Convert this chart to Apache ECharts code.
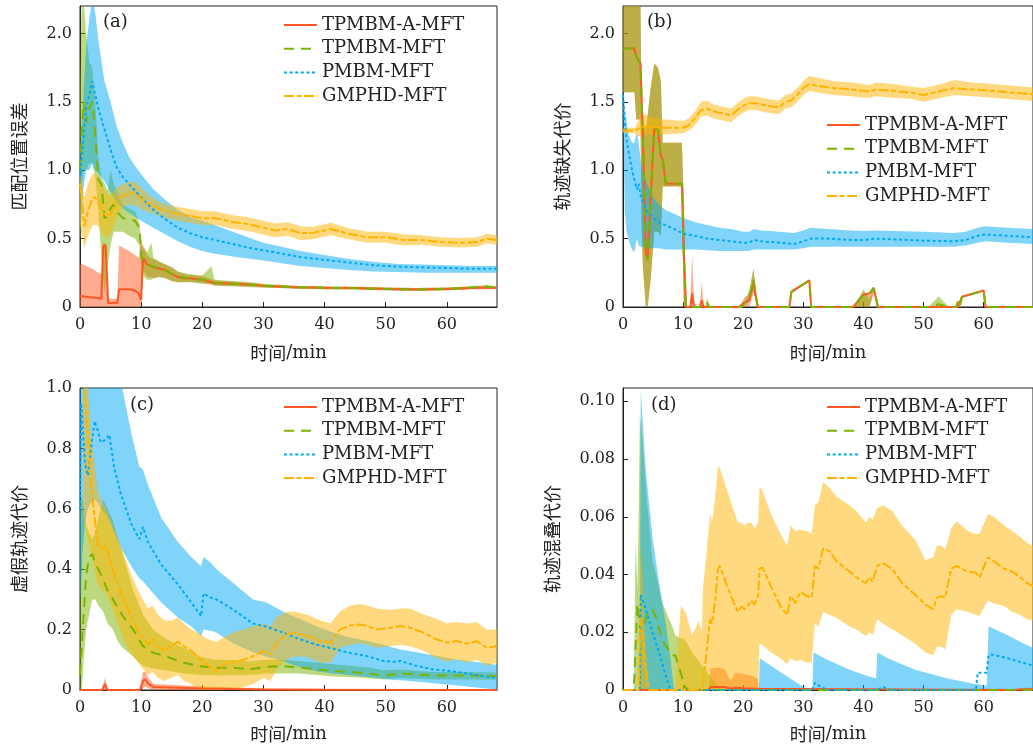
<!DOCTYPE html>
<html>
<head>
<meta charset="utf-8">
<script src="https://cdn.jsdelivr.net/npm/echarts@6/dist/echarts.min.js"></script>
<style>
html, body { margin: 0; padding: 0; background: #fff; }
#main { width: 1033px; height: 747px; }
</style>
</head>
<body>
<div id="main"></div>
<script>
// 方法名称
var methods = ['TPMBM-A-MFT', 'TPMBM-MFT', 'PMBM-MFT', 'GMPHD-MFT'];

// ---------- (a) 匹配位置误差 ----------
var aRedT = [0, 1, 2, 3, 3.5, 3.8, 4.2, 4.6, 5.5, 6.1, 6.4, 8, 9, 9.6, 10, 10.3, 10.7, 11, 11.5, 12, 13, 14, 15, 16, 17, 18, 20, 22, 25, 28, 30, 35, 40, 45, 50, 55, 60, 65, 68.2];
var aRedMean = [0.08, 0.075, 0.07, 0.065, 0.06, 0.45, 0.45, 0.03, 0.03, 0.03, 0.13, 0.13, 0.12, 0.1, 0.05, 0.36, 0.33, 0.31, 0.30, 0.29, 0.28, 0.27, 0.24, 0.22, 0.21, 0.21, 0.2, 0.176, 0.17, 0.163, 0.155, 0.145, 0.14, 0.138, 0.132, 0.128, 0.132, 0.14, 0.14];
var aRedHi = [0.32, 0.3, 0.28, 0.25, 0.24, 0.47, 0.47, 0.06, 0.06, 0.06, 0.45, 0.41, 0.38, 0.36, 0.48, 0.45, 0.42, 0.38, 0.36, 0.35, 0.33, 0.31, 0.29, 0.26, 0.24, 0.235, 0.225, 0.195, 0.185, 0.175, 0.165, 0.155, 0.15, 0.148, 0.142, 0.138, 0.142, 0.15, 0.15];
var aRedLo = [0, 0, 0, 0, 0, 0, 0, 0, 0, 0, 0, 0, 0, 0, 0, 0.27, 0.24, 0.22, 0.22, 0.21, 0.22, 0.21, 0.19, 0.18, 0.18, 0.185, 0.175, 0.158, 0.155, 0.15, 0.145, 0.135, 0.13, 0.128, 0.122, 0.118, 0.122, 0.13, 0.13];

var aGreenT = [0, 0.3, 0.6, 1, 1.5, 2, 2.5, 3, 3.5, 4, 4.5, 5, 5.5, 6, 7, 8, 9, 9.7, 10.1, 10.5, 11, 11.7, 12, 13, 14, 15, 16, 18, 20, 21.5, 22, 25, 28, 30, 35, 40, 45, 50, 55, 60, 63, 66.5, 68.2];
var aGreenMean = [1.0, 1.3, 1.5, 1.35, 1.45, 1.5, 1.25, 0.93, 0.9, 0.65, 0.66, 0.72, 0.75, 0.70, 0.65, 0.64, 0.63, 0.58, 0.36, 0.33, 0.31, 0.30, 0.29, 0.28, 0.27, 0.24, 0.22, 0.21, 0.2, 0.19, 0.176, 0.17, 0.163, 0.155, 0.145, 0.14, 0.138, 0.132, 0.128, 0.132, 0.14, 0.15, 0.14];
var aGreenHi = [1.6, 2.25, 2.25, 2.0, 1.8, 1.75, 1.5, 1.1, 0.95, 0.9, 0.85, 1.0, 0.9, 0.85, 0.75, 0.72, 0.7, 0.62, 0.45, 0.42, 0.40, 0.47, 0.36, 0.33, 0.31, 0.29, 0.26, 0.24, 0.23, 0.3, 0.2, 0.19, 0.18, 0.17, 0.155, 0.15, 0.148, 0.142, 0.138, 0.142, 0.15, 0.16, 0.15];
var aGreenLo = [0.4, 0.9, 1.0, 1.0, 1.05, 1.05, 0.95, 0.7, 0.35, 0.1, 0.3, 0.45, 0.55, 0.55, 0.55, 0.52, 0.5, 0.45, 0.25, 0.22, 0.2, 0.2, 0.21, 0.22, 0.21, 0.19, 0.18, 0.18, 0.17, 0.17, 0.155, 0.15, 0.145, 0.14, 0.135, 0.13, 0.128, 0.122, 0.118, 0.122, 0.13, 0.14, 0.13];

var aBlueT = [0, 0.5, 1, 1.5, 2, 2.5, 3, 4, 5, 6, 7, 8, 9, 10, 12, 14, 16, 18, 20, 22, 25, 28, 30, 33, 36, 40, 44, 48, 52, 56, 60, 64, 68.2];
var aBlueMean = [0.95, 1.2, 1.45, 1.55, 1.65, 1.55, 1.45, 1.3, 1.15, 1.02, 0.95, 0.9, 0.85, 0.8, 0.71, 0.64, 0.58, 0.54, 0.51, 0.49, 0.46, 0.43, 0.415, 0.39, 0.365, 0.345, 0.325, 0.305, 0.295, 0.29, 0.285, 0.28, 0.28];
var aBlueHi = [1.0, 1.5, 1.9, 2.1, 2.25, 2.15, 1.95, 1.65, 1.5, 1.32, 1.2, 1.1, 1.03, 0.97, 0.86, 0.78, 0.71, 0.66, 0.63, 0.6, 0.55, 0.5, 0.47, 0.44, 0.41, 0.38, 0.35, 0.33, 0.315, 0.31, 0.305, 0.3, 0.3];
var aBlueLo = [0.5, 0.85, 1.0, 1.0, 1.05, 1.0, 0.98, 0.92, 0.84, 0.76, 0.72, 0.69, 0.66, 0.63, 0.58, 0.53, 0.48, 0.44, 0.41, 0.39, 0.37, 0.35, 0.34, 0.32, 0.3, 0.285, 0.27, 0.26, 0.255, 0.25, 0.25, 0.25, 0.25];

var aOrangeT = [0, 0.2, 0.7, 1.3, 2.1, 2.9, 3.7, 4.5, 5.1, 6.2, 7.3, 8.4, 9.5, 10.5, 11.6, 13.3, 16, 18.7, 20, 22, 25, 27, 30, 32, 34, 36, 38, 41, 44, 47, 50, 53, 56, 59, 62, 65, 66.5, 68.2];
var aOrangeMean = [0.9, 0.83, 0.59, 0.7, 0.8, 0.79, 0.69, 0.66, 0.69, 0.79, 0.82, 0.835, 0.81, 0.775, 0.75, 0.71, 0.68, 0.66, 0.647, 0.652, 0.62, 0.61, 0.58, 0.56, 0.57, 0.54, 0.54, 0.57, 0.535, 0.51, 0.51, 0.49, 0.49, 0.475, 0.47, 0.475, 0.5, 0.49];
var aOrangeHi = [0.95, 0.95, 0.8, 0.9, 0.98, 0.95, 0.88, 0.82, 0.82, 0.88, 0.9, 0.92, 0.9, 0.85, 0.81, 0.76, 0.73, 0.71, 0.7, 0.7, 0.67, 0.66, 0.63, 0.61, 0.62, 0.59, 0.585, 0.615, 0.575, 0.55, 0.55, 0.53, 0.525, 0.51, 0.505, 0.51, 0.535, 0.525];
var aOrangeLo = [0.6, 0.55, 0.43, 0.52, 0.6, 0.6, 0.53, 0.5, 0.55, 0.68, 0.74, 0.75, 0.73, 0.7, 0.69, 0.66, 0.63, 0.61, 0.6, 0.6, 0.57, 0.56, 0.53, 0.51, 0.52, 0.49, 0.495, 0.525, 0.495, 0.47, 0.47, 0.45, 0.455, 0.44, 0.435, 0.44, 0.465, 0.455];

// ---------- (b) 轨迹缺失代价 ----------
var bRedT = [0, 1.9, 2.2, 2.9, 3.1, 3.3, 3.8, 4.1, 4.6, 5.2, 5.8, 6.3, 6.6, 7.1, 9.8, 10.1, 10.5, 11.2, 11.5, 11.8, 12.3, 12.8, 13.1, 13.4, 13.8, 19.3, 20.2, 21.0, 21.7, 22.4, 27.7, 28.0, 31.0, 31.3, 38.3, 40.0, 41.0, 41.7, 42.4, 55.7, 56.0, 56.4, 60.0, 60.3, 68.2];
var bRedMean = [1.89, 1.89, 1.83, 1.78, 1.78, 1.27, 0.39, 0.34, 0.8, 1.3, 1.3, 1.1, 1.08, 0.9, 0.9, 0.4, 0, 0, 0.1, 0, 0, 0, 0.05, 0, 0, 0, 0.03, 0.05, 0.18, 0, 0, 0.11, 0.195, 0, 0, 0.09, 0.1, 0.14, 0, 0, 0, 0.075, 0.12, 0, 0];
var bRedHi = [2.3, 2.3, 2.3, 2.3, 1.4, 1.35, 1.3, 1.4, 1.6, 1.78, 1.75, 1.65, 1.2, 1.2, 1.2, 0.8, 0, 0, 0.4, 0.05, 0, 0.02, 0.18, 0.02, 0, 0, 0.07, 0.09, 0.28, 0, 0, 0.12, 0.2, 0, 0, 0.11, 0.09, 0.13, 0, 0, 0, 0.08, 0.125, 0, 0];
var bRedLo = [1.57, 1.57, 1.37, 1.37, 0.6, 0.3, 0, 0, 0.2, 0.55, 0.55, 0.52, 0.88, 0.88, 0.88, 0, 0, 0, 0, 0, 0, 0, 0, 0, 0, 0, 0, 0, 0.1, 0, 0, 0.1, 0.19, 0, 0, 0, 0, 0.1, 0, 0, 0, 0.07, 0.115, 0, 0];

var bGreenT = [0, 1.9, 2.2, 2.9, 3.1, 3.3, 3.8, 4.1, 4.6, 5.2, 5.8, 6.3, 6.6, 7.1, 9.8, 10.1, 10.5, 13.6, 14.0, 14.4, 19.8, 21.0, 21.7, 22.4, 27.7, 28.0, 31.0, 31.3, 38.3, 40.0, 41.0, 41.7, 42.4, 50.8, 52.5, 54.2, 55.4, 55.7, 56.0, 56.4, 60.0, 60.3, 68.2];
var bGreenMean = [1.89, 1.89, 1.83, 1.78, 1.78, 1.27, 0.39, 0.34, 0.8, 1.3, 1.3, 1.1, 1.08, 0.9, 0.9, 0.4, 0, 0, 0.03, 0, 0, 0.08, 0.2, 0, 0, 0.11, 0.195, 0, 0, 0.09, 0.1, 0.14, 0, 0, 0.02, 0, 0, 0.04, 0, 0.075, 0.12, 0, 0];
var bGreenHi = [2.3, 2.3, 2.3, 2.3, 1.4, 1.35, 1.3, 1.4, 1.6, 1.78, 1.75, 1.65, 1.2, 1.2, 1.2, 0.8, 0, 0, 0.07, 0, 0, 0.12, 0.28, 0, 0, 0.12, 0.2, 0, 0, 0.127, 0.055, 0.146, 0, 0, 0.078, 0, 0, 0.05, 0, 0.08, 0.125, 0, 0];
var bGreenLo = [1.57, 1.57, 1.37, 1.37, 0.6, 0.3, 0, 0, 0.2, 0.55, 0.55, 0.52, 0.88, 0.88, 0.88, 0, 0, 0, 0, 0, 0, 0.04, 0.12, 0, 0, 0.1, 0.19, 0, 0, 0, 0, 0.11, 0, 0, 0, 0, 0, 0.03, 0, 0.07, 0.115, 0, 0];

var bBlueT = [0, 0.3, 0.6, 1, 1.5, 1.9, 2.3, 2.6, 3, 4, 5, 6, 7, 8, 9, 10, 12, 14, 16, 18, 20, 21, 21.8, 23, 26, 28.5, 30, 31.2, 34, 38, 40, 42, 45, 50, 55, 57, 59, 60.2, 64, 68.2];
var bBlueMean = [1.55, 1.35, 1.22, 1.12, 1.0, 0.93, 0.86, 0.9, 0.8, 0.7, 0.65, 0.62, 0.6, 0.58, 0.56, 0.535, 0.52, 0.5, 0.49, 0.48, 0.47, 0.47, 0.49, 0.48, 0.47, 0.46, 0.48, 0.5, 0.5, 0.49, 0.49, 0.5, 0.495, 0.485, 0.48, 0.49, 0.52, 0.53, 0.52, 0.51];
var bBlueHi = [1.62, 1.45, 1.35, 1.25, 1.2, 1.2, 1.28, 1.2, 1.05, 0.9, 0.8, 0.75, 0.71, 0.69, 0.67, 0.65, 0.62, 0.6, 0.58, 0.57, 0.55, 0.55, 0.57, 0.56, 0.55, 0.54, 0.56, 0.58, 0.57, 0.56, 0.555, 0.56, 0.555, 0.55, 0.54, 0.55, 0.58, 0.59, 0.58, 0.57];
var bBlueLo = [1.4, 0.7, 0.55, 0.48, 0.42, 0.4, 0.5, 0.45, 0.44, 0.43, 0.43, 0.43, 0.42, 0.42, 0.42, 0.42, 0.42, 0.415, 0.41, 0.41, 0.41, 0.41, 0.42, 0.42, 0.42, 0.42, 0.43, 0.44, 0.44, 0.44, 0.44, 0.44, 0.44, 0.44, 0.44, 0.45, 0.47, 0.48, 0.47, 0.46];

var bOrangeT = [0, 2, 2.5, 3, 3.5, 5, 7, 10, 11, 12, 13, 14, 15, 17, 18, 19, 20, 21, 22, 24, 26, 27, 28, 29, 30, 31, 32, 35, 38, 40, 41, 42, 45, 48, 50, 52, 53, 55, 58, 60, 64, 68.2];
var bOrangeMean = [1.29, 1.29, 1.3, 1.32, 1.32, 1.315, 1.31, 1.31, 1.33, 1.38, 1.44, 1.45, 1.43, 1.41, 1.40, 1.44, 1.47, 1.49, 1.49, 1.47, 1.46, 1.5, 1.51, 1.55, 1.6, 1.63, 1.62, 1.6, 1.59, 1.58, 1.575, 1.59, 1.58, 1.565, 1.55, 1.57, 1.58, 1.6, 1.59, 1.585, 1.57, 1.555];
var bOrangeHi = [1.31, 1.31, 1.36, 1.39, 1.41, 1.38, 1.37, 1.36, 1.38, 1.43, 1.5, 1.51, 1.48, 1.46, 1.45, 1.49, 1.52, 1.54, 1.54, 1.52, 1.51, 1.55, 1.56, 1.6, 1.65, 1.69, 1.68, 1.65, 1.64, 1.63, 1.62, 1.64, 1.63, 1.61, 1.6, 1.62, 1.63, 1.66, 1.64, 1.635, 1.62, 1.605];
var bOrangeLo = [1.27, 1.27, 1.25, 1.25, 1.26, 1.26, 1.26, 1.27, 1.29, 1.33, 1.39, 1.4, 1.38, 1.36, 1.35, 1.39, 1.42, 1.44, 1.44, 1.42, 1.41, 1.45, 1.46, 1.5, 1.55, 1.58, 1.57, 1.55, 1.54, 1.53, 1.53, 1.54, 1.53, 1.52, 1.5, 1.52, 1.53, 1.55, 1.54, 1.535, 1.52, 1.505];

// ---------- (c) 虚假轨迹代价 ----------
var cRedT = [0, 3.6, 4.1, 4.5, 9.8, 10.3, 10.7, 11.2, 12, 15, 20, 30, 40, 68.2];
var cRedMean = [0, 0, 0.02, 0, 0, 0.03, 0.035, 0.02, 0.01, 0.008, 0.005, 0.002, 0.001, 0];
var cRedHi = [0, 0, 0.042, 0, 0, 0.06, 0.06, 0.04, 0.02, 0.017, 0.012, 0.006, 0.004, 0.003];
var cRedLo = [0, 0, 0, 0, 0, 0.005, 0.012, 0.005, 0.002, 0, 0, 0, 0, 0];

var cGreenT = [0, 0.3, 0.6, 1, 1.5, 2, 2.5, 3, 3.8, 4.5, 5.4, 6.2, 7, 8.7, 10.3, 12, 14, 16.9, 19.6, 22.3, 25, 27.8, 30.5, 33.2, 36, 41.4, 47, 49.6, 52.4, 57.8, 63.3, 68.2];
var cGreenMean = [0.05, 0.15, 0.25, 0.38, 0.44, 0.45, 0.42, 0.4, 0.366, 0.33, 0.3, 0.27, 0.245, 0.2, 0.145, 0.123, 0.112, 0.09, 0.079, 0.074, 0.074, 0.068, 0.077, 0.079, 0.074, 0.063, 0.055, 0.048, 0.055, 0.048, 0.048, 0.046];
var cGreenHi = [0.6, 0.65, 0.6, 0.55, 0.52, 0.5, 0.52, 0.57, 0.63, 0.6, 0.56, 0.5, 0.45, 0.33, 0.25, 0.2, 0.17, 0.14, 0.11, 0.1, 0.1, 0.095, 0.1, 0.1, 0.095, 0.085, 0.075, 0.065, 0.068, 0.06, 0.06, 0.058];
var cGreenLo = [0, 0, 0.1, 0.2, 0.25, 0.3, 0.3, 0.28, 0.26, 0.22, 0.2, 0.16, 0.14, 0.11, 0.08, 0.07, 0.065, 0.055, 0.05, 0.048, 0.05, 0.05, 0.055, 0.055, 0.055, 0.045, 0.04, 0.035, 0.04, 0.035, 0.035, 0.034];

var cBlueT = [0, 0.2, 0.4, 0.8, 1.3, 1.8, 2.4, 2.9, 3.4, 4.3, 4.8, 5.6, 6.7, 8.4, 9.7, 10.3, 11.1, 13.3, 16, 18.2, 19.8, 20.2, 21.5, 22.3, 25, 28.3, 30.5, 33.2, 36, 38.7, 41.4, 44, 47, 49.6, 51.3, 52.4, 55, 57.8, 60.5, 63.3, 66, 68.2];
var cBlueMean = [0.6, 0.95, 0.89, 0.75, 0.71, 0.8, 0.89, 0.86, 0.82, 0.83, 0.845, 0.735, 0.647, 0.55, 0.50, 0.54, 0.49, 0.415, 0.35, 0.29, 0.245, 0.32, 0.305, 0.30, 0.267, 0.22, 0.21, 0.19, 0.168, 0.15, 0.137, 0.123, 0.112, 0.096, 0.093, 0.096, 0.08, 0.068, 0.063, 0.055, 0.046, 0.04];
var cBlueHi = [1.1, 1.2, 1.2, 1.2, 1.2, 1.2, 1.2, 1.2, 1.2, 1.15, 1.12, 1.07, 1.02, 0.85, 0.74, 0.73, 0.68, 0.57, 0.49, 0.44, 0.41, 0.44, 0.42, 0.40, 0.355, 0.30, 0.29, 0.26, 0.235, 0.21, 0.19, 0.175, 0.162, 0.15, 0.14, 0.134, 0.125, 0.115, 0.105, 0.096, 0.09, 0.083];
var cBlueLo = [0.3, 0.35, 0.45, 0.55, 0.6, 0.62, 0.63, 0.62, 0.6, 0.58, 0.56, 0.52, 0.47, 0.41, 0.37, 0.36, 0.34, 0.29, 0.24, 0.21, 0.18, 0.2, 0.195, 0.19, 0.155, 0.125, 0.11, 0.095, 0.075, 0.062, 0.055, 0.05, 0.043, 0.037, 0.033, 0.032, 0.028, 0.022, 0.017, 0.012, 0.006, 0.002];

var cOrangeT = [0.5, 0.7, 1.3, 1.8, 2.4, 2.9, 3.7, 4.3, 5.1, 6.2, 7.3, 8.4, 9.5, 10.3, 11.1, 11.9, 12.7, 13.8, 14.9, 16, 17, 18.2, 19.3, 20.7, 22.3, 24, 25, 26.7, 28.3, 30, 31.1, 32.2, 33.8, 34.9, 37.1, 39.3, 41, 42.5, 44.2, 45.8, 47, 48.5, 50.7, 52.4, 54, 56.2, 58.3, 60, 61.6, 63.3, 64.9, 66.5, 68.2];
var cOrangeMean = [1.1, 1.0, 0.845, 0.68, 0.57, 0.48, 0.47, 0.476, 0.415, 0.35, 0.294, 0.24, 0.195, 0.173, 0.15, 0.17, 0.145, 0.13, 0.145, 0.16, 0.145, 0.13, 0.11, 0.085, 0.063, 0.09, 0.09, 0.10, 0.112, 0.129, 0.118, 0.156, 0.184, 0.19, 0.18, 0.162, 0.157, 0.2, 0.214, 0.217, 0.212, 0.2, 0.206, 0.212, 0.206, 0.19, 0.168, 0.157, 0.162, 0.153, 0.162, 0.14, 0.145];
var cOrangeHi = [1.2, 1.15, 1.0, 0.85, 0.75, 0.66, 0.62, 0.6, 0.56, 0.5, 0.44, 0.38, 0.33, 0.3, 0.27, 0.28, 0.25, 0.23, 0.23, 0.24, 0.22, 0.2, 0.19, 0.17, 0.16, 0.18, 0.19, 0.2, 0.21, 0.22, 0.21, 0.24, 0.26, 0.26, 0.25, 0.23, 0.22, 0.26, 0.28, 0.285, 0.28, 0.27, 0.265, 0.27, 0.27, 0.25, 0.235, 0.22, 0.225, 0.22, 0.225, 0.2, 0.2];
var cOrangeLo = [0.6, 0.55, 0.5, 0.45, 0.4, 0.35, 0.33, 0.32, 0.28, 0.22, 0.16, 0.12, 0.09, 0.07, 0.05, 0.06, 0.04, 0.03, 0.04, 0.05, 0.03, 0.02, 0, 0, 0, 0, 0, 0.01, 0.02, 0.04, 0.03, 0.07, 0.1, 0.11, 0.11, 0.09, 0.09, 0.14, 0.15, 0.155, 0.15, 0.14, 0.145, 0.15, 0.145, 0.13, 0.105, 0.095, 0.1, 0.09, 0.1, 0.08, 0.09];

// ---------- (d) 轨迹混叠代价 ----------
var dRedT = [0, 14.2, 14.6, 16, 17, 17.8, 18.2, 18.6, 20, 21.3, 22.4, 22.7, 65, 66.5, 68.2];
var dRedMean = [0, 0, 0.001, 0.001, 0.001, 0.0005, 0.0005, 0.0008, 0.0006, 0.0005, 0.0004, 0, 0, 0.0003, 0.0003];
var dRedHi = [0, 0, 0.0075, 0.0078, 0.007, 0.0035, 0.004, 0.006, 0.0055, 0.005, 0.004, 0, 0, 0.0008, 0.0008];
var dRedLo = [0, 0, 0, 0, 0, 0, 0, 0, 0, 0, 0, 0, 0, 0, 0];

var dGreenT = [0, 1.8, 2.1, 2.4, 2.6, 2.8, 3.1, 4, 4.9, 5.5, 6.6, 8.2, 8.7, 9.6, 10.3, 11, 11.5, 13.7, 15.8, 16.5, 68.2];
var dGreenMean = [0, 0, 0.015, 0.03, 0.03, 0.022, 0.02, 0.026, 0.028, 0.025, 0.017, 0.012, 0.012, 0.006, 0.001, 0, 0, 0, 0, 0, 0];
var dGreenHi = [0, 0, 0.052, 0.035, 0.06, 0.095, 0.09, 0.065, 0.045, 0.04, 0.03, 0.022, 0.019, 0.018, 0.0175, 0.015, 0.013, 0.007, 0.0014, 0, 0];
var dGreenLo = [0, 0, 0, 0, 0, 0, 0, 0, 0, 0, 0, 0, 0, 0, 0, 0, 0, 0, 0, 0, 0];

var dBlueT = [0, 2.8, 2.95, 3.8, 4.9, 6, 7.1, 7.7, 8.5, 22.6, 22.75, 26.8, 30, 31.5, 31.7, 31.9, 33, 34, 37.7, 40.4, 42.1, 42.3, 43.4, 44, 48.6, 54, 58.7, 59.0, 60.5, 60.8, 61.4, 64, 67.2, 68.2];
var dBlueMean = [0, 0, 0.033, 0.028, 0.02, 0.013, 0.005, 0.001, 0, 0, 0, 0, 0, 0, 0, 0.0025, 0.001, 0, 0, 0, 0, 0, 0.001, 0, 0, 0, 0, 0.006, 0.006, 0.012, 0.0123, 0.011, 0.009, 0.0085];
var dBlueHi = [0, 0, 0.104, 0.076, 0.053, 0.037, 0.023, 0.014, 0, 0, 0.011, 0.0054, 0.001, 0, 0.013, 0.0128, 0.0115, 0.0105, 0.007, 0.005, 0.004, 0.013, 0.0118, 0.011, 0.007, 0.004, 0.002, 0.002, 0.0015, 0.022, 0.0215, 0.019, 0.0155, 0.0146];
var dBlueLo = [0, 0, 0, 0, 0, 0, 0, 0, 0, 0, 0, 0, 0, 0, 0, 0, 0, 0, 0, 0, 0, 0, 0, 0, 0, 0, 0, 0, 0, 0, 0, 0, 0, 0];

var dOrangeT = [0, 2.6, 2.9, 3.2, 3.6, 4.3, 8.7, 9.6, 10.4, 11.5, 12.6, 13.1, 13.3, 14.5, 14.8, 15.3, 15.8, 16.1, 17.5, 19.1, 19.7, 20.2, 20.8, 21.3, 21.9, 22.5, 22.7, 23.2, 24.6, 26.2, 27.3, 27.9, 28.7, 29.5, 30.6, 31.4, 31.9, 32.5, 33.3, 34.4, 35.5, 36.9, 37.7, 38.8, 40.4, 41, 41.5, 42.3, 43.2, 44.8, 46.4, 48.6, 50.3, 51.6, 52.2, 53, 53.6, 54.6, 55.5, 56.3, 57.4, 58.7, 59.3, 60.7, 61.7, 63.4, 64.8, 66.1, 67.2, 68.2];
var dOrangeMean = [0, 0, 0.025, 0.02, 0.01, 0, 0, 0, 0, 0, 0, 0, 0.002, 0.0245, 0.023, 0.03, 0.042, 0.043, 0.035, 0.027, 0.029, 0.028, 0.029, 0.031, 0.0296, 0.033, 0.042, 0.0425, 0.036, 0.029, 0.026, 0.0325, 0.030, 0.034, 0.0325, 0.032, 0.043, 0.042, 0.049, 0.048, 0.0446, 0.0423, 0.041, 0.039, 0.037, 0.039, 0.0375, 0.043, 0.044, 0.042, 0.037, 0.033, 0.0296, 0.028, 0.032, 0.0325, 0.032, 0.042, 0.043, 0.042, 0.041, 0.0406, 0.039, 0.046, 0.0446, 0.042, 0.041, 0.039, 0.037, 0.036];
var dOrangeHi = [0, 0, 0.05, 0.04, 0.02, 0, 0, 0.029, 0.027, 0.019, 0.024, 0.02, 0.035, 0.061, 0.058, 0.066, 0.0775, 0.077, 0.068, 0.058, 0.058, 0.057, 0.058, 0.058, 0.056, 0.058, 0.0705, 0.069, 0.061, 0.054, 0.05, 0.057, 0.055, 0.0556, 0.055, 0.054, 0.064, 0.065, 0.072, 0.07, 0.067, 0.065, 0.064, 0.062, 0.058, 0.06, 0.059, 0.063, 0.064, 0.062, 0.057, 0.052, 0.045, 0.046, 0.05, 0.05, 0.0487, 0.056, 0.0585, 0.057, 0.055, 0.054, 0.054, 0.061, 0.06, 0.057, 0.055, 0.053, 0.051, 0.05];
var dOrangeLo = [0, 0, 0, 0, 0, 0, 0, 0, 0, 0, 0, 0, 0, 0, 0, 0, 0, 0, 0, 0, 0, 0, 0, 0, 0, 0, 0.016, 0.0155, 0.013, 0.011, 0.009, 0.011, 0.01, 0.0105, 0.0095, 0.0095, 0.023, 0.022, 0.027, 0.026, 0.025, 0.023, 0.022, 0.021, 0.0187, 0.02, 0.019, 0.0245, 0.023, 0.021, 0.019, 0.016, 0.013, 0.012, 0.015, 0.015, 0.014, 0.026, 0.028, 0.0275, 0.027, 0.026, 0.0256, 0.031, 0.03, 0.029, 0.027, 0.026, 0.0245, 0.024];

// ---------- 样式 ----------
var lineColors = ['#FF5722', '#7CB300', '#03A9F4', '#FFB300'];
var bandColors = ['rgba(255,87,34,0.5)', 'rgba(124,179,0,0.5)', 'rgba(3,169,244,0.5)', 'rgba(255,179,0,0.5)'];
var lineTypes = ['solid', [10, 7], [3, 2.6], [10, 2.5, 5, 2.5]];
var serif = 'DejaVu Serif';
var cjk = 'Noto Sans CJK SC';

var panelData = [
    [[aRedT, aRedMean, aRedLo, aRedHi], [aGreenT, aGreenMean, aGreenLo, aGreenHi], [aBlueT, aBlueMean, aBlueLo, aBlueHi], [aOrangeT, aOrangeMean, aOrangeLo, aOrangeHi]],
    [[bRedT, bRedMean, bRedLo, bRedHi], [bGreenT, bGreenMean, bGreenLo, bGreenHi], [bBlueT, bBlueMean, bBlueLo, bBlueHi], [bOrangeT, bOrangeMean, bOrangeLo, bOrangeHi]],
    [[cRedT, cRedMean, cRedLo, cRedHi], [cGreenT, cGreenMean, cGreenLo, cGreenHi], [cBlueT, cBlueMean, cBlueLo, cBlueHi], [cOrangeT, cOrangeMean, cOrangeLo, cOrangeHi]],
    [[dRedT, dRedMean, dRedLo, dRedHi], [dGreenT, dGreenMean, dGreenLo, dGreenHi], [dBlueT, dBlueMean, dBlueLo, dBlueHi], [dOrangeT, dOrangeMean, dOrangeLo, dOrangeHi]]
];

var panels = [
    { grid: { left: 80, top: 6, width: 417, height: 301 }, ymax: 2.2, step: 0.5, dec: 1, maxLabel: false, yname: '匹配位置误差', ygap: 52, xgap: 37, legend: { left: 283, top: 16 }, tag: '(a)', tagPos: [103, 13] },
    { grid: { left: 623, top: 6, width: 417, height: 301 }, ymax: 2.2, step: 0.5, dec: 1, maxLabel: false, yname: '轨迹缺失代价', ygap: 52, xgap: 37, legend: { left: 826, top: 116 }, tag: '(b)', tagPos: [647, 13] },
    { grid: { left: 80, top: 388, width: 417, height: 302 }, ymax: 1.0, step: 0.2, dec: 1, maxLabel: true, yname: '虚假轨迹代价', ygap: 52, xgap: 35, legend: { left: 283, top: 398 }, tag: '(c)', tagPos: [130, 396] },
    { grid: { left: 623, top: 388, width: 417, height: 302 }, ymax: 0.1046, step: 0.02, dec: 2, maxLabel: false, yname: '轨迹混叠代价', ygap: 62, xgap: 35, legend: { left: 826, top: 398 }, tag: '(d)', tagPos: [651, 396] }
];

function bandSeries(k, t, lo, hi, color) {
    return {
        type: 'custom', xAxisIndex: k, yAxisIndex: k, silent: true, clip: true, animation: false,
        data: [[t[0], lo[0]]],
        renderItem: function (params, api) {
            var pts = [];
            for (var i = 0; i < t.length; i++) pts.push(api.coord([t[i], hi[i]]));
            for (var j = t.length - 1; j >= 0; j--) pts.push(api.coord([t[j], lo[j]]));
            return { type: 'polygon', shape: { points: pts }, style: { fill: color } };
        }
    };
}

var series = [];
panelData.forEach(function (group, k) {
    group.forEach(function (d, m) {
        series.push({
            type: 'line', name: methods[m], xAxisIndex: k, yAxisIndex: k,
            data: d[0].map(function (x, i) { return [x, d[1][i]]; }),
            symbol: 'none', silent: true, clip: true, animation: false,
            lineStyle: { color: lineColors[m], width: 2, type: lineTypes[m] },
            itemStyle: { color: lineColors[m] }
        });
        series.push(bandSeries(k, d[0], d[2], d[3], bandColors[m]));
    });
});

var option = {
    backgroundColor: '#fff',
    animation: false,
    title: panels.map(function (p) {
        return { text: p.tag, left: p.tagPos[0], top: p.tagPos[1], padding: 0,
            textStyle: { fontFamily: serif, fontSize: 18, fontWeight: 'normal', color: '#222' } };
    }),
    legend: panels.map(function (p) {
        return {
            data: methods, orient: 'vertical', left: p.legend.left, top: p.legend.top, padding: 0,
            itemWidth: 33, itemHeight: 14, itemGap: 5.7, selectedMode: false,
            itemStyle: { opacity: 0 },
            textStyle: { fontFamily: serif, fontSize: 18, color: '#222', lineHeight: 18 }
        };
    }),
    grid: panels.map(function (p) {
        return { left: p.grid.left, top: p.grid.top, width: p.grid.width, height: p.grid.height,
            show: true, borderColor: '#222', borderWidth: 1, backgroundColor: 'transparent' };
    }),
    xAxis: panels.map(function (p, k) {
        return {
            type: 'value', gridIndex: k, min: 0, max: 68.2, interval: 10,
            name: '{cn|时间}{en|/min}', nameLocation: 'middle', nameGap: p.xgap,
            nameTextStyle: { color: '#222', rich: { cn: { fontFamily: cjk, fontSize: 18, color: '#222' }, en: { fontFamily: serif, fontSize: 18, color: '#222' } } },
            axisLine: { show: true, lineStyle: { color: '#222', width: 1 } },
            axisTick: { show: true, inside: true, length: 5, lineStyle: { color: '#222' } },
            axisLabel: { showMaxLabel: false, margin: 10, fontFamily: serif, fontSize: 16, color: '#222' },
            splitLine: { show: false }
        };
    }),
    yAxis: panels.map(function (p, k) {
        return {
            type: 'value', gridIndex: k, min: 0, max: p.ymax, interval: p.step,
            name: p.yname, nameLocation: 'middle', nameGap: p.ygap, nameRotate: 90,
            nameTextStyle: { fontFamily: cjk, fontSize: 18, color: '#222' },
            axisLine: { show: true, lineStyle: { color: '#222', width: 1 } },
            axisTick: { show: true, inside: true, length: 5, lineStyle: { color: '#222' } },
            axisLabel: {
                showMaxLabel: p.maxLabel, margin: 8, fontFamily: serif, fontSize: 16, color: '#222',
                formatter: function (v) { return v === 0 ? '0' : v.toFixed(p.dec); }
            },
            splitLine: { show: false }
        };
    }),
    series: series
};

var chartDom = document.getElementById('main');
var myChart = echarts.init(chartDom);
option && myChart.setOption(option);
</script>
</body>
</html>
